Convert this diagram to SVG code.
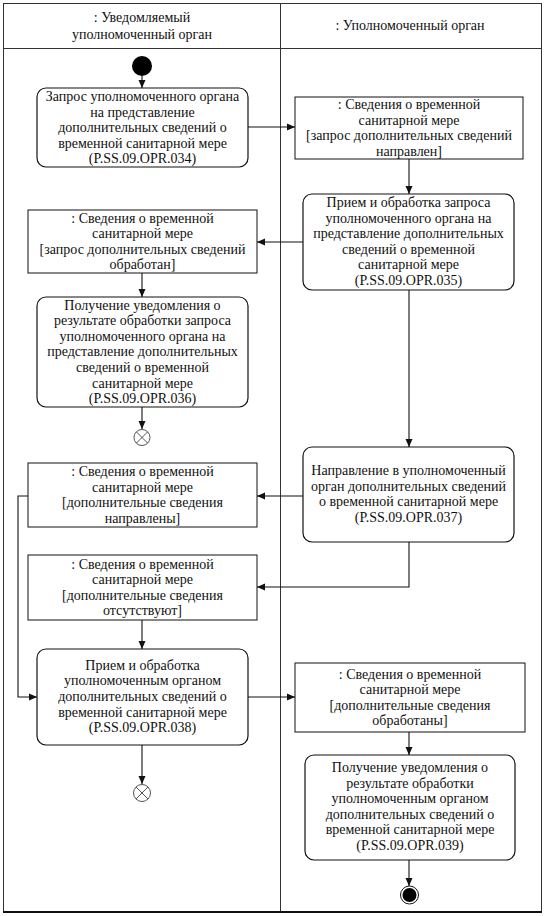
<svg xmlns="http://www.w3.org/2000/svg" width="545" height="916" viewBox="0 0 545 916">
<defs>
<style>
text{font-family:'Liberation Serif','DejaVu Serif',serif;font-size:14px;fill:#111;text-anchor:middle}
.lane{fill:none;stroke:#333;stroke-width:1}
.act{fill:#fff;stroke:#111;stroke-width:1.2}
.obj{fill:#fff;stroke:#111;stroke-width:1}
.c{fill:none;stroke:#111;stroke-width:1.1}
</style>
<marker id="ah" viewBox="0 0 8 8" refX="8" refY="4" markerWidth="8" markerHeight="8" markerUnits="userSpaceOnUse" orient="auto">
<path d="M0,0.5 L8,4 L0,7.5 z" fill="#111"/>
</marker>
</defs>
<rect x="0" y="0" width="545" height="916" fill="#fff"/>
<g id="lanes" font-family="Liberation Serif, serif">
<rect class="lane" x="3.5" y="3.5" width="538" height="908"/>
<line class="lane" x1="3.5" y1="48.5" x2="541.5" y2="48.5"/>
<line class="lane" x1="280.5" y1="3.5" x2="280.5" y2="911.5"/>
<line x1="3" y1="912" x2="542" y2="912" stroke="#111" stroke-width="2"/>
<text x="142" y="22">: Уведомляемый</text>
<text x="142" y="39">уполномоченный орган</text>
<text x="410" y="30">: Уполномоченный орган</text>
</g>
<g id="connectors">
<line class="c" x1="142" y1="76" x2="142" y2="88" marker-end="url(#ah)"/>
<line class="c" x1="248" y1="127" x2="295" y2="127" marker-end="url(#ah)"/>
<line class="c" x1="409" y1="159" x2="409" y2="194" marker-end="url(#ah)"/>
<line class="c" x1="303" y1="242" x2="257" y2="242" marker-end="url(#ah)"/>
<line class="c" x1="142" y1="273" x2="142" y2="297" marker-end="url(#ah)"/>
<line class="c" x1="142" y1="407" x2="142" y2="429" marker-end="url(#ah)"/>
<line class="c" x1="409" y1="290" x2="409" y2="447" marker-end="url(#ah)"/>
<line class="c" x1="303" y1="496" x2="257" y2="496" marker-end="url(#ah)"/>
<polyline class="c" points="409,542 409,587 257,587" marker-end="url(#ah)"/>
<line class="c" x1="142" y1="620" x2="142" y2="649" marker-end="url(#ah)"/>
<polyline class="c" points="28,496 18,496 18,697 37,697" marker-end="url(#ah)"/>
<line class="c" x1="248" y1="697" x2="295" y2="697" marker-end="url(#ah)"/>
<line class="c" x1="142" y1="745" x2="142" y2="784" marker-end="url(#ah)"/>
<line class="c" x1="409" y1="732" x2="409" y2="755" marker-end="url(#ah)"/>
<line class="c" x1="409" y1="860" x2="409" y2="886" marker-end="url(#ah)"/>
</g>
<g id="start">
<circle cx="142" cy="66" r="10" fill="#000"/>
</g>
<g id="a034">
<rect class="act" x="37" y="88" width="211" height="79" rx="9"/>
<text x="142.5" y="101">Запрос уполномоченного органа</text>
<text x="142.5" y="116.6">на представление</text>
<text x="142.5" y="132.2">дополнительных сведений о</text>
<text x="142.5" y="147.8">временной санитарной мере</text>
<text x="142.5" y="163.4">(P.SS.09.OPR.034)</text>
</g>
<g id="o1">
<rect class="obj" x="295" y="97" width="228" height="62"/>
<text x="409" y="109">: Сведения о временной</text>
<text x="409" y="124.6">санитарной мере</text>
<text x="409" y="140.2">[запрос дополнительных сведений</text>
<text x="409" y="155.8">направлен]</text>
</g>
<g id="a035">
<rect class="act" x="303" y="194" width="211" height="96" rx="9"/>
<text x="408.5" y="207">Прием и обработка запроса</text>
<text x="408.5" y="222.6">уполномоченного органа на</text>
<text x="408.5" y="238.2">представление дополнительных</text>
<text x="408.5" y="253.8">сведений о временной</text>
<text x="408.5" y="269.4">санитарной мере</text>
<text x="408.5" y="285">(P.SS.09.OPR.035)</text>
</g>
<g id="o2">
<rect class="obj" x="28" y="210" width="229" height="63"/>
<text x="142.5" y="222.5">: Сведения о временной</text>
<text x="142.5" y="238.1">санитарной мере</text>
<text x="142.5" y="253.7">[запрос дополнительных сведений</text>
<text x="142.5" y="269.3">обработан]</text>
</g>
<g id="a036">
<rect class="act" x="37" y="297" width="211" height="110" rx="9"/>
<text x="142.5" y="309.5">Получение уведомления о</text>
<text x="142.5" y="325.1">результате обработки запроса</text>
<text x="142.5" y="340.7">уполномоченного органа на</text>
<text x="142.5" y="356.3">представление дополнительных</text>
<text x="142.5" y="371.9">сведений о временной</text>
<text x="142.5" y="387.5">санитарной мере</text>
<text x="142.5" y="403.1">(P.SS.09.OPR.036)</text>
</g>
<g id="flowend1">
<circle cx="142" cy="437.5" r="8" fill="#fff" stroke="#555" stroke-width="1"/>
<path d="M136.3,431.8 L147.7,443.2 M147.7,431.8 L136.3,443.2" stroke="#555" stroke-width="1"/>
</g>
<g id="a037">
<rect class="act" x="303" y="447" width="211" height="95" rx="9"/>
<text x="408.5" y="475">Направление в уполномоченный</text>
<text x="408.5" y="490.6">орган дополнительных сведений</text>
<text x="408.5" y="506.2">о временной санитарной мере</text>
<text x="408.5" y="521.8">(P.SS.09.OPR.037)</text>
</g>
<g id="o3">
<rect class="obj" x="28" y="463" width="229" height="64"/>
<text x="142.5" y="476">: Сведения о временной</text>
<text x="142.5" y="491.6">санитарной мере</text>
<text x="142.5" y="507.2">[дополнительные сведения</text>
<text x="142.5" y="522.8">направлены]</text>
</g>
<g id="o4">
<rect class="obj" x="28" y="555" width="229" height="65"/>
<text x="142.5" y="568.5">: Сведения о временной</text>
<text x="142.5" y="584.1">санитарной мере</text>
<text x="142.5" y="599.7">[дополнительные сведения</text>
<text x="142.5" y="615.3">отсутствуют]</text>
</g>
<g id="a038">
<rect class="act" x="37" y="649" width="211" height="96" rx="9"/>
<text x="142.5" y="669.8">Прием и обработка</text>
<text x="142.5" y="685.4">уполномоченным органом</text>
<text x="142.5" y="701">дополнительных сведений о</text>
<text x="142.5" y="716.6">временной санитарной мере</text>
<text x="142.5" y="732.2">(P.SS.09.OPR.038)</text>
</g>
<g id="flowend2">
<circle cx="142" cy="793" r="8.5" fill="#fff" stroke="#555" stroke-width="1"/>
<path d="M136,787 L148,799 M148,787 L136,799" stroke="#555" stroke-width="1"/>
</g>
<g id="o5">
<rect class="obj" x="295" y="663" width="230" height="69"/>
<text x="410" y="678.5">: Сведения о временной</text>
<text x="410" y="694.1">санитарной мере</text>
<text x="410" y="709.7">[дополнительные сведения</text>
<text x="410" y="725.3">обработаны]</text>
</g>
<g id="a039">
<rect class="act" x="305" y="755" width="210" height="105" rx="9"/>
<text x="410" y="772">Получение уведомления о</text>
<text x="410" y="787.6">результате обработки</text>
<text x="410" y="803.2">уполномоченным органом</text>
<text x="410" y="818.8">дополнительных сведений о</text>
<text x="410" y="834.4">временной санитарной мере</text>
<text x="410" y="850">(P.SS.09.OPR.039)</text>
</g>
<g id="final">
<circle cx="409.5" cy="895" r="9" fill="#fff" stroke="#111" stroke-width="1"/>
<circle cx="409.5" cy="895" r="7" fill="#000"/>
</g>
</svg>
